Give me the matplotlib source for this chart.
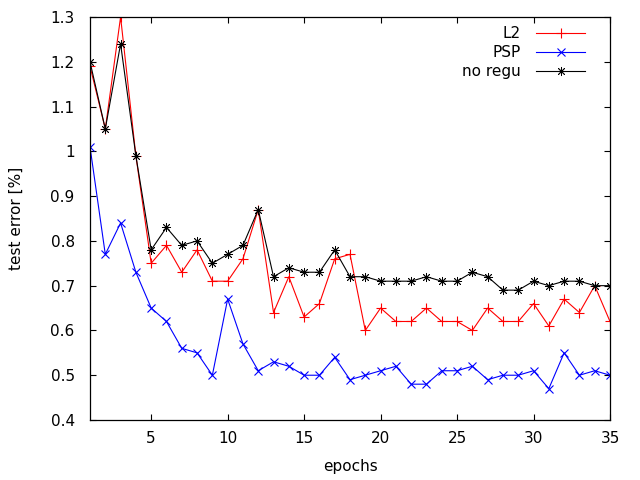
import numpy as np
from matplotlib import pyplot as plt

# epochs and test error per method
epochs = np.arange(1, 36)
l2 = [1.19, 1.05, 1.30, 0.99, 0.75, 0.79, 0.73, 0.78, 0.71, 0.71,
      0.76, 0.87, 0.64, 0.72, 0.63, 0.66, 0.76, 0.77, 0.60, 0.65,
      0.62, 0.62, 0.65, 0.62, 0.62, 0.60, 0.65, 0.62, 0.62, 0.66,
      0.61, 0.67, 0.64, 0.70, 0.62]
psp = [1.01, 0.77, 0.84, 0.73, 0.65, 0.62, 0.56, 0.55, 0.50, 0.67,
       0.57, 0.51, 0.53, 0.52, 0.50, 0.50, 0.54, 0.49, 0.50, 0.51,
       0.52, 0.48, 0.48, 0.51, 0.51, 0.52, 0.49, 0.50, 0.50, 0.51,
       0.47, 0.55, 0.50, 0.51, 0.50]
no_regu = [1.20, 1.05, 1.24, 0.99, 0.78, 0.83, 0.79, 0.80, 0.75, 0.77,
           0.79, 0.87, 0.72, 0.74, 0.73, 0.73, 0.78, 0.72, 0.72, 0.71,
           0.71, 0.71, 0.72, 0.71, 0.71, 0.73, 0.72, 0.69, 0.69, 0.71,
           0.70, 0.71, 0.71, 0.70, 0.70]

xticks = [5, 10, 15, 20, 25, 30, 35]
yticks = [0.4, 0.5, 0.6, 0.7, 0.8, 0.9, 1.0, 1.1, 1.2, 1.3]
ytick_labels = ["0.4", "0.5", "0.6", "0.7", "0.8", "0.9", "1", "1.1", "1.2", "1.3"]

plt.rcParams['font.family'] = ['DejaVu Sans']
plt.rcParams['font.size'] = 11

fig = plt.figure(figsize=(6.4, 4.8), dpi=100)
ax = fig.add_axes([90/640, 60/480, 520/640, 403/480])

star = (8, 2, 0)  # gnuplot-like asterisk
ax.plot(epochs, l2, color='#ff0000', lw=0.8, marker='+', ms=7, mew=0.8, label='L2')
ax.plot(epochs, psp, color='#0000ff', lw=0.8, marker='x', ms=6, mew=0.8, label='PSP')
ax.plot(epochs, no_regu, color='black', lw=0.8, marker=star, ms=6.5, mew=0.6, label='no regu')

ax.set_xlim(1, 35)
ax.set_ylim(0.4, 1.3)
ax.set_xticks(xticks)
ax.set_yticks(yticks)
ax.set_yticklabels(ytick_labels)
ax.tick_params(direction='in', length=4.5, width=0.8, top=True, right=True)
ax.tick_params(axis='y', pad=11)
ax.tick_params(axis='x', pad=8)
for s in ax.spines.values():
    s.set_linewidth(0.9)

ax.set_xlabel('epochs', labelpad=9)
ax.set_ylabel('test error [%]', labelpad=19)

ax.legend(loc='upper right', bbox_to_anchor=(495/520, 0.978), frameon=False,
          markerfirst=False, handlelength=3.2, handletextpad=1.0,
          labelspacing=0.28, borderaxespad=0, borderpad=0)

fig.savefig('out.png', dpi=100)
